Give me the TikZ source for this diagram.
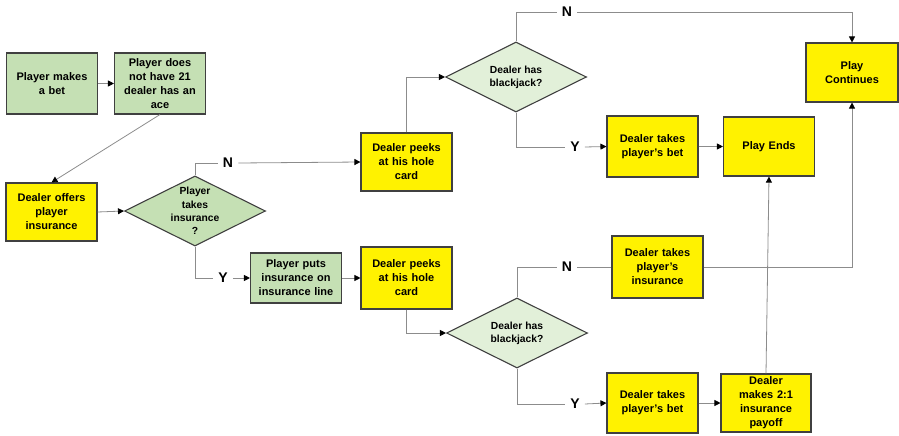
\documentclass[tikz,border=0pt]{standalone}
\usepackage{fontspec}
\setmainfont{Liberation Sans}
\usetikzlibrary{shapes.geometric,arrows.meta}
\definecolor{boxgreen}{HTML}{C5E0B4}
\definecolor{palegreen}{HTML}{E2F0D9}
\definecolor{edgegray}{HTML}{404040}
\definecolor{linegray}{HTML}{8C8C8C}

\begin{document}
\begin{tikzpicture}[x=1pt,y=-1pt,
    box/.style={rectangle, draw=edgegray, line width=1.1pt, minimum width=91pt, minimum height=59pt,
      text width=86pt, align=center, inner sep=0pt, font=\bfseries\fontsize{11}{14}\selectfont},
    greenbox/.style={box, fill=boxgreen},
    yellowbox/.style={box, fill=yellow},
    dia/.style={diamond, draw=edgegray, line width=1.1pt, minimum width=141pt, minimum height=70pt, inner sep=0pt},
    diatext/.style={align=center, font=\bfseries\fontsize{10.3}{13.3}\selectfont},
    yn/.style={font=\bfseries\fontsize{14}{14}\selectfont, inner sep=5pt},
    link/.style={draw=linegray, line width=0.8pt},
    flow/.style={link, -{Triangle[width=6pt,length=6pt,color=black,fill=black]}}]
    \useasboundingbox (0,0) rectangle (899,436);

    \node[greenbox, minimum height=61pt] (bet) at (52,83.5) {Player makes\\a bet};
    \node[greenbox, minimum height=61pt] (ace) at (160,83.5) {Player does\\not have 21\\dealer has an\\ace};
    \node[yellowbox, minimum height=58pt] (offer) at (51.5,212) {Dealer offers\\player\\insurance};
    \node[dia, fill=boxgreen, label={[diatext]center:{Player\\takes\\insurance\\?}}] (takes) at (195,211) {};
    \node[yn] (n1) at (228,163) {N};
    \node[yn] (y1) at (223,278) {Y};
    \node[yellowbox, minimum height=58pt] (peekup) at (406.5,162) {Dealer peeks\\at his hole\\card};
    \node[greenbox, minimum height=50pt] (puts) at (296,278) {Player puts\\insurance on\\insurance line};
    \node[yellowbox, minimum height=62pt] (peeklow) at (406.5,278) {Dealer peeks\\at his hole\\card};

    \node[dia, fill=palegreen, label={[diatext]center:{Dealer has\\blackjack?}}] (bjup) at (516,77) {};
    \node[yn] (n2) at (567,12) {N};
    \node[yn] (y2) at (575,147) {Y};
    \node[dia, fill=palegreen, label={[diatext]center:{Dealer has\\blackjack?}}] (bjlow) at (517,333) {};
    \node[yn] (n3) at (567,267) {N};
    \node[yn] (y3) at (575,404) {Y};

    \node[yellowbox, minimum height=61pt] (betup) at (652.5,146.5) {Dealer takes\\player's bet};
    \node[yellowbox, minimum height=59pt] (ends) at (769,146.5) {Play Ends};
    \node[yellowbox, minimum height=59pt, minimum width=92pt] (cont) at (852,72.5) {Play\\Continues};
    \node[yellowbox, minimum height=62pt] (insur) at (657.5,267) {Dealer takes\\player's\\insurance};
    \node[yellowbox, minimum height=60pt] (betlow) at (652.5,403) {Dealer takes\\player's bet};
    \node[yellowbox, minimum height=58pt, minimum width=90pt] (payoff) at (766,403) {Dealer\\makes 2:1\\insurance\\payoff};

    \draw[flow] (bet.east) -- (ace.west);
    \draw[flow] (ace.south) -- (offer.north);
    \draw[flow] (offer.east) -- (takes.west);
    \draw[link] (takes.north) |- (n1.west);
    \draw[flow] (n1.east) -- (peekup.west);
    \draw[link] (takes.south) |- (y1.west);
    \draw[flow] (y1.east) -- (puts.west);
    \draw[flow] (puts.east) -- (peeklow.west);

    \draw[flow] (peekup.north) |- (bjup.west);
    \draw[link] (bjup.north) |- (n2.west);
    \draw[flow] (n2.east) -| (cont.north);
    \draw[link] (bjup.south) |- (y2.west);
    \draw[flow] (y2.east) -- (betup.west);
    \draw[flow] (betup.east) -- (ends.west);

    \draw[flow] (peeklow.south) |- (bjlow.west);
    \draw[link] (bjlow.north) |- (n3.west);
    \draw[link] (n3.east) -- (insur.west);
    \draw[flow] (insur.east) -| (cont.south);
    \draw[link] (bjlow.south) |- (y3.west);
    \draw[flow] (y3.east) -- (betlow.west);
    \draw[flow] (betlow.east) -- (payoff.west);
    \draw[flow] (payoff.north) -- (ends.south);
\end{tikzpicture}
\end{document}
